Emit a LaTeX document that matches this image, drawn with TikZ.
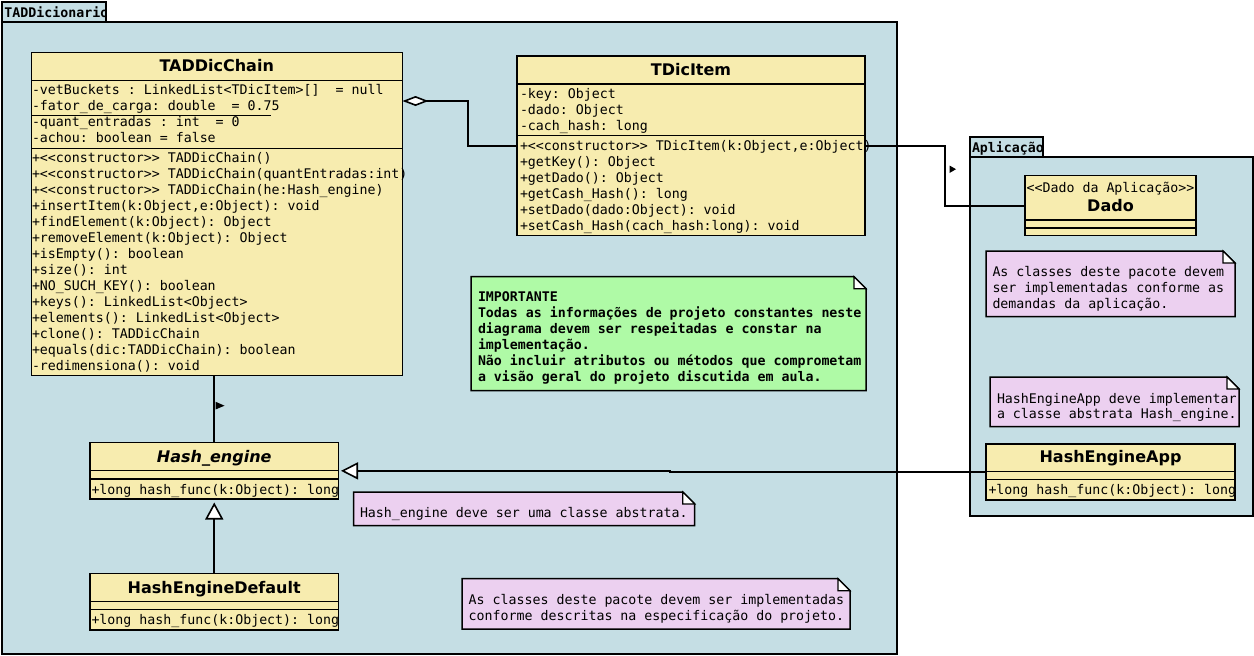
\documentclass[tikz,border=0pt]{standalone}
\usepackage{fontspec}
\setmainfont{DejaVu Sans}
\setmonofont{DejaVu Sans Mono}
\usetikzlibrary{arrows.meta}

\definecolor{pkgfill}{RGB}{197,222,228}
\definecolor{clsfill}{RGB}{247,236,175}
\definecolor{notefill}{RGB}{236,208,240}
\definecolor{impfill}{RGB}{175,250,166}

\tikzset{
  pkg/.style={draw, line width=2pt, fill=pkgfill, anchor=north west, inner sep=0pt, outer sep=0pt},
  cls/.style={draw, line width=1.5pt, fill=clsfill, anchor=north west, inner sep=0pt, outer sep=0pt},
  notebody/.style={anchor=north west, inner sep=0pt, outer sep=0pt},
  rowtext/.style={font=\ttfamily\fontsize{13.27}{16}\selectfont, inner sep=0pt, outer sep=0pt, anchor=base west},
  clstitle/.style={font=\bfseries\fontsize{16}{19}\selectfont, inner sep=0pt, outer sep=0pt, anchor=base},
  tabtext/.style={font=\ttfamily\bfseries\fontsize{13.27}{16}\selectfont, inner sep=0pt, outer sep=0pt, anchor=base west},
  connector/.style={line width=1.6pt},
  separator/.style={line width=1.5pt},
}

% one text node per line: [style] name, x, first baseline, line step, lines
\newcommand\textrows[6][]{%
  \foreach \rowtxt [count=\k from 1] in {#6} {
    \node[rowtext,#1] (#2-\k) at (#3, {#4+(\k-1)*#5}) {\rowtxt};
  }%
}
% horizontal compartment line, #3 below the top edge of box #2
\newcommand\compartment[3][separator]{%
  \draw[#1] ([yshift=-#3pt]#2.north west) -- ([yshift=-#3pt]#2.north east);%
}
% note outline with a folded top-right corner
\newcommand\notedraw[2]{%
  \filldraw[fill=#2, line width=1.5pt, line join=miter]
    (#1.north west) -- ([xshift=-12pt]#1.north east) -- ([yshift=-12pt]#1.north east)
    -- (#1.south east) -- (#1.south west) -- cycle;
  \filldraw[fill=white, line width=1.2pt]
    ([xshift=-12pt]#1.north east) -- ([xshift=-12pt,yshift=-12pt]#1.north east)
    -- ([yshift=-12pt]#1.north east) -- cycle;
}

\begin{document}
\begin{tikzpicture}[x=1pt,y=-1pt]
\useasboundingbox (0,0) rectangle (1254,656);

% ---------- package TADDicionario ----------
\node[pkg, minimum width=895pt, minimum height=632pt] (pkgDic) at (2,22) {};
\node[pkg, minimum width=104pt, minimum height=20pt] (pkgDicTab) at (2,2) {};
\begin{scope}
  \clip (pkgDicTab.north west) rectangle (pkgDicTab.south east);
  \node[tabtext] (pkgDicName) at (4.5,17.7) {TADDicionario};
\end{scope}
\draw[line width=2pt] (pkgDicTab.north west) rectangle (pkgDicTab.south east);

% ---------- package Aplicação ----------
\node[pkg, minimum width=283pt, minimum height=359pt] (pkgApp) at (970,157) {};
\node[pkg, minimum width=73pt, minimum height=20pt] (pkgAppTab) at (970,137) {};
\begin{scope}
  \clip (pkgAppTab.north west) rectangle (pkgAppTab.south east);
  \node[tabtext] (pkgAppName) at (972,152.7) {Aplicação};
\end{scope}
\draw[line width=2pt] (pkgAppTab.north west) rectangle (pkgAppTab.south east);

% ---------- class TADDicChain ----------
\node[cls, line width=1pt, minimum width=371.5pt, minimum height=323.5pt] (tad) at (31,52.3) {};
\node[clstitle] (tadName) at (216.7,71.3) {TADDicChain};
\compartment[line width=1pt]{tad}{27.7}
\compartment[line width=1pt]{tad}{96.4}
\textrows{tadA}{32}{94.3}{16}{%
  {-vetBuckets : LinkedList<TDicItem>[]\ \ = null},
  {-fator\_de\_carga: double\ \ = 0.75},
  {-quant\_entradas : int\ \ = 0},
  {-achou: boolean = false}}
\draw[line width=1pt] ([yshift=-5.4pt]tadA-2.base west) -- ++(239,0);
\textrows{tadM}{32}{162.2}{16}{%
  {+<{}<constructor>{}> TADDicChain()},
  {+<{}<constructor>{}> TADDicChain(quantEntradas:int)},
  {+<{}<constructor>{}> TADDicChain(he:Hash\_engine)},
  {+insertItem(k:Object,e:Object): void},
  {+findElement(k:Object): Object},
  {+removeElement(k:Object): Object},
  {+isEmpty(): boolean},
  {+size(): int},
  {+NO\_SUCH\_KEY(): boolean},
  {+keys(): LinkedList<Object>},
  {+elements(): LinkedList<Object>},
  {+clone(): TADDicChain},
  {+equals(dic:TADDicChain): boolean},
  {-redimensiona(): void}}

% ---------- class TDicItem ----------
\node[cls, minimum width=348pt, minimum height=179.3pt] (item) at (517,56) {};
\node[clstitle] (itemName) at (691,75.7) {TDicItem};
\compartment{item}{28}
\compartment{item}{79.7}
\textrows{itemA}{520}{98.2}{16}{%
  {-key: Object},
  {-dado: Object},
  {-cach\_hash: long}}
\textrows{itemM}{520}{150.9}{15.9}{%
  {+<{}<constructor>{}> TDicItem(k:Object,e:Object)},
  {+getKey(): Object},
  {+getDado(): Object},
  {+getCash\_Hash(): long},
  {+setDado(dado:Object): void},
  {+setCash\_Hash(cach\_hash:long): void}}

% ---------- class Dado ----------
\node[cls, minimum width=171pt, minimum height=60pt] (dado) at (1025,175.7) {};
\node[rowtext, anchor=base] (dadoStereo) at (1110.5,192.5) {<{}<Dado da Aplicação>{}>};
\node[clstitle] (dadoName) at (1110.5,211) {Dado};
\compartment{dado}{44.3}
\compartment{dado}{52.3}

% ---------- class HashEngineApp ----------
\node[cls, minimum width=249pt, minimum height=56pt] (app) at (986,444) {};
\node[clstitle] (appName) at (1110.5,462.7) {HashEngineApp};
\compartment{app}{27.7}
\compartment{app}{35.3}
\node[rowtext] (appM) at (988.5,494.8) {+long hash\_func(k:Object): long};

% ---------- class Hash_engine ----------
\node[cls, minimum width=248.5pt, minimum height=56.3pt] (hash) at (90,442.7) {};
\node[clstitle, font=\bfseries\itshape\fontsize{16}{19}\selectfont] (hashName) at (214.25,462.5) {Hash\_engine};
\compartment{hash}{28}
\compartment{hash}{36.3}
\node[rowtext] (hashM) at (91.5,494.8) {+long hash\_func(k:Object): long};

% ---------- class HashEngineDefault ----------
\node[cls, minimum width=248.5pt, minimum height=56.3pt] (hdef) at (90,573.7) {};
\node[clstitle] (hdefName) at (214.25,593.5) {HashEngineDefault};
\compartment{hdef}{28}
\compartment{hdef}{36}
\node[rowtext] (hdefM) at (91.5,624.8) {+long hash\_func(k:Object): long};

% ---------- notes ----------
\node[notebody, minimum width=395pt, minimum height=114pt] (noteImp) at (471,276.7) {};
\notedraw{noteImp}{impfill}
\textrows[font=\ttfamily\bfseries\fontsize{13.27}{16}\selectfont]{impT}{478}{301.5}{15.9}{%
  {IMPORTANTE},
  {Todas as informações de projeto constantes neste},
  {diagrama devem ser respeitadas e constar na},
  {implementação.},
  {Não incluir atributos ou métodos que comprometam},
  {a visão geral do projeto discutida em aula.}}

\node[notebody, minimum width=249pt, minimum height=65.7pt] (noteApp) at (986,251) {};
\notedraw{noteApp}{notefill}
\textrows{appT}{992.5}{276.5}{16}{%
  {As classes deste pacote devem},
  {ser implementadas conforme as},
  {demandas da aplicação.}}

\node[notebody, minimum width=249pt, minimum height=49.7pt] (noteHEA) at (990,377) {};
\notedraw{noteHEA}{notefill}
\textrows{heaT}{997}{403}{15.5}{%
  {HashEngineApp deve implementar},
  {a classe abstrata Hash\_engine.}}

\node[notebody, minimum width=341pt, minimum height=33.7pt] (noteHE) at (353.7,492) {};
\notedraw{noteHE}{notefill}
\node[rowtext] (heT) at (360,517.5) {Hash\_engine deve ser uma classe abstrata.};

\node[notebody, minimum width=388pt, minimum height=50.3pt] (noteBot) at (462,578.7) {};
\notedraw{noteBot}{notefill}
\textrows{botT}{468.7}{604.8}{15.7}{%
  {As classes deste pacote devem ser implementadas},
  {conforme descritas na especificação do projeto.}}

% ---------- connectors ----------
% aggregation TADDicChain <>--- TDicItem
\draw[connector, {Diamond[length=26pt,width=10pt,fill=white]}-]
  ([yshift=-48.7pt]tad.north east) -- ++(65.5,0) |- ([yshift=-90pt]item.north west);
% association TDicItem --- Dado
\draw[connector] ([yshift=-90pt]item.north east) -- ++(80,0) |- (dado.west);
\fill (949.5,165.5) -- (956,169.2) -- (949.5,173) -- cycle;
% association TADDicChain --- Hash_engine
\draw[connector] (hash.north |- tad.south) -- (hash.north);
\fill (215.5,401.7) -- (224.5,405.7) -- (215.5,409.5) -- cycle;
% generalizations
\draw[connector, -{Triangle[length=17pt,width=17pt,fill=white]}, shorten >=2.5pt]
  (app.west) -- ++(-316,0) |- (hash.east);
\draw[connector, -{Triangle[length=17pt,width=18pt,fill=white]}, shorten >=3.5pt]
  (hdef.north) -- (hash.south);

\end{tikzpicture}
\end{document}
